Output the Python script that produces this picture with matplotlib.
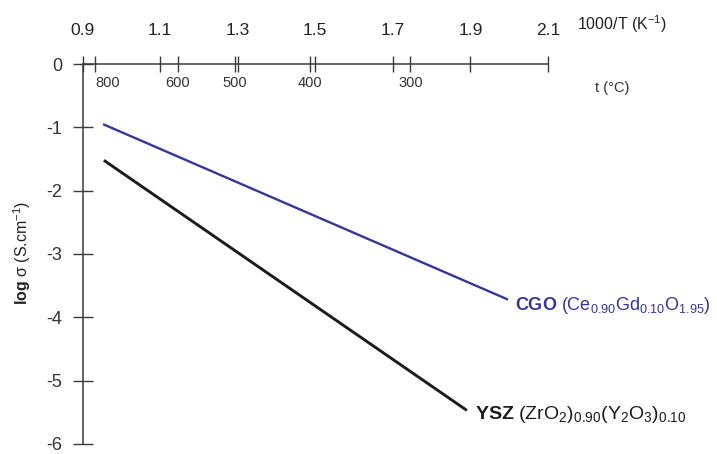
import numpy as np
import matplotlib
matplotlib.use('Agg')
import matplotlib.pyplot as plt
from matplotlib import transforms

## OPTIONS

plt.rcParams['font.family'] = ['Liberation Sans', 'DejaVu Sans']
plt.rcParams['mathtext.fontset'] = 'custom'
plt.rcParams['mathtext.rm'] = 'Liberation Sans'
plt.rcParams['mathtext.bf'] = 'Liberation Sans:bold'
plt.rcParams['axes.unicode_minus'] = False

## DATA

# 1000/T (K^-1) endpoints and log sigma for each electrolyte
cgo_x = [0.953, 1.997]
cgo_y = [-0.95, -3.72]
ysz_x = [0.955, 1.891]
ysz_y = [-1.52, -5.47]

inv_t_ticks = [0.9, 1.1, 1.3, 1.5, 1.7, 1.9, 2.1]
inv_t_labels = ['0.9', '1.1', '1.3', '1.5', '1.7', '1.9', '2.1']
temp_c = [800, 600, 500, 400, 300]
y_ticks = [0, -1, -2, -3, -4, -5, -6]

axis_col = '#3a3a3a'
blue = '#34379a'
black = '#1c1c1c'

## PLOTTING

fig = plt.figure(figsize=(7.17, 4.54), dpi=100)
W, H = 717, 454
x0, x1 = 82.5, 548
y0, y1 = 64, 444
ax = fig.add_axes([x0 / W, 1 - y1 / H, (x1 - x0) / W, (y1 - y0) / H])
ax.set_xlim(0.9, 2.1)
ax.set_ylim(-6, 0)

for s in ['right', 'bottom']:
    ax.spines[s].set_visible(False)
for s in ['left', 'top']:
    ax.spines[s].set_color(axis_col)
    ax.spines[s].set_linewidth(1.1)

ax.plot(cgo_x, cgo_y, color=blue, lw=1.7, solid_capstyle='butt')
ax.plot(ysz_x, ysz_y, color=black, lw=2.1, solid_capstyle='butt')

# top axis: 1000/T
ax.xaxis.tick_top()
ax.set_xticks(inv_t_ticks)
ax.set_xticklabels(inv_t_labels)
ax.tick_params(axis='x', which='major', direction='inout', length=12, width=1.0,
               color=axis_col, labelsize=12.5, labelcolor='#222222', pad=13)

# temperature ticks on the same line
temp_pos = [1000.0 / (t + 273) for t in temp_c]
ax.set_xticks(temp_pos, minor=True)
ax.tick_params(axis='x', which='minor', direction='inout', length=12, width=1.0,
               color=axis_col, top=True, bottom=False)
trans = transforms.blended_transform_factory(ax.transData, fig.transFigure)
for t, p in zip(temp_c, temp_pos):
    ha = 'left' if t == 800 else 'center'
    ax.text(p, 1 - 83 / H, str(t), transform=trans, ha=ha, va='center',
            fontsize=10.5, color='#333333')
fig.text(612 / W, 1 - 88 / H, 't (°C)', ha='center', va='center',
         fontsize=10.5, color='#333333')
fig.text(577 / W, 1 - 24 / H, '1000/T (K$^{-1}$)', ha='left', va='center',
         fontsize=11.5, color='#222222')

# left axis
ax.set_yticks(y_ticks)
ax.set_yticklabels([str(v) for v in y_ticks])
ax.tick_params(axis='y', direction='inout', length=15, width=1.0,
               color=axis_col, labelsize=13, labelcolor='#333333', pad=7)
fig.text(22 / W, 1 - 253 / H, r'$\mathbf{log}$ σ (S.cm$^{-1}$)', rotation=90,
         ha='center', va='center', fontsize=11.5, color='#222222')

# series labels
ax.annotate(r'$\mathbf{CGO}$ (Ce$_{0.90}$Gd$_{0.10}$O$_{1.95}$)',
            xy=(cgo_x[-1], cgo_y[-1]), xytext=(5, -4), textcoords='offset points',
            ha='left', va='center', fontsize=13, color=blue, annotation_clip=False)
ax.annotate(r'$\mathbf{YSZ}$ (ZrO$_2$)$_{0.90}$(Y$_2$O$_3$)$_{0.10}$',
            xy=(ysz_x[-1], ysz_y[-1]), xytext=(6, -3), textcoords='offset points',
            ha='left', va='center', fontsize=14, color=black, annotation_clip=False)

fig.savefig('out.png', dpi=100)
